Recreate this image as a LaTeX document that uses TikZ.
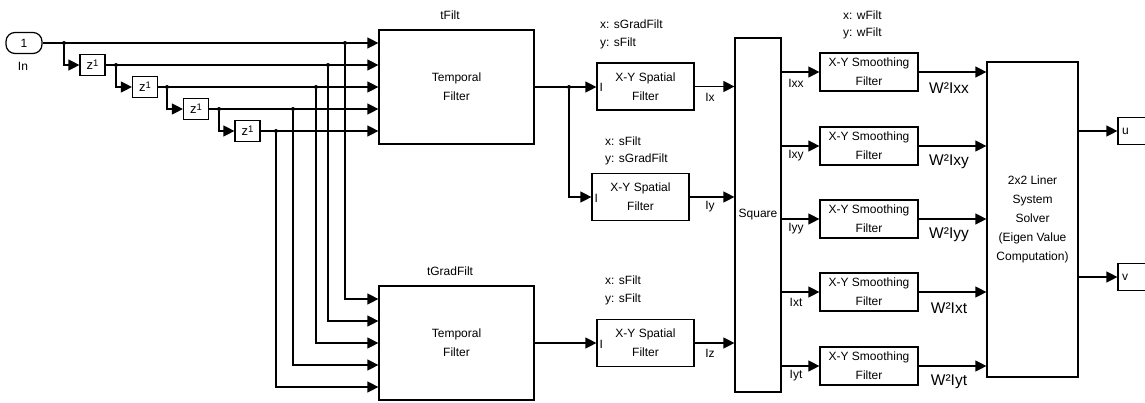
\documentclass[tikz,border=0pt]{standalone}
\usepackage{fontspec}
\setmainfont{Liberation Sans}
\usetikzlibrary{arrows.meta,calc}
\begin{document}
\begin{tikzpicture}[x=1pt,y=-1pt,
  blk/.style={draw, line width=1.2pt, inner sep=0pt, font=\fontsize{12}{19}\selectfont, align=center},
  wire/.style={line width=1.2pt},
  arr/.style={wire, -{Triangle[length=11pt,width=11pt]}},
  dot/.style={circle, fill, inner sep=0pt, minimum size=4pt},
  lab/.style={font=\fontsize{12}{14}\selectfont, inner sep=0pt},
  wlab/.style={font=\fontsize{15.5}{16}\selectfont, inner sep=0pt},
  zbox/.style={blk, minimum width=25pt, minimum height=21pt, font=\fontsize{13}{14}\selectfont},
  tbox/.style={blk, minimum width=155pt, minimum height=114pt},
  sbox/.style={blk, minimum width=97pt, minimum height=47pt},
  mbox/.style={blk, minimum width=98pt, minimum height=38pt},
  obox/.style={blk, minimum height=27pt, text width=22pt, inner xsep=4pt, align=left}]
\useasboundingbox (0,0) rectangle (1145,402);

% input port and delays
\node[blk, rounded corners=9pt, minimum width=36pt, minimum height=21pt] (in) at (24,43) {1};
\node[lab] (inl) at (23,66) {In};
\node[zbox] (z1) at (92.5,65) {z\raisebox{3pt}{\fontsize{9.5}{9}\selectfont 1}};
\node[zbox] (z2) at (145,87) {z\raisebox{3pt}{\fontsize{9.5}{9}\selectfont 1}};
\node[zbox] (z3) at (196,109) {z\raisebox{3pt}{\fontsize{9.5}{9}\selectfont 1}};
\node[zbox] (z4) at (247.5,131) {z\raisebox{3pt}{\fontsize{9.5}{9}\selectfont 1}};

% temporal filters
\node[tbox] (tf) at (456.5,87) {Temporal\\Filter};
\node[lab] (tfl) at (450,15) {tFilt};
\node[tbox] (tg) at (456.5,343) {Temporal\\Filter};
\node[lab] (tgl) at (450,271) {tGradFilt};

% spatial filters
\node[sbox] (sf1) at (645.5,86.5) {X-Y Spatial\\Filter};
\node[sbox] (sf2) at (640.5,197) {X-Y Spatial\\Filter};
\node[sbox] (sf3) at (645.5,343) {X-Y Spatial\\Filter};
\node[lab, anchor=west] (sf1x) at (600,24) {x: sGradFilt};
\node[lab, anchor=west] (sf1y) at (600,43) {y: sFilt};
\node[lab, anchor=west] (sf2x) at (605,141) {x: sFilt};
\node[lab, anchor=west] (sf2y) at (605,159) {y: sGradFilt};
\node[lab, anchor=west] (sf3x) at (605,280) {x: sFilt};
\node[lab, anchor=west] (sf3y) at (605,299) {y: sFilt};
\node[lab, anchor=west] (sf1i) at ($(sf1.west)+(3,1)$) {I};
\node[lab, anchor=west] (sf2i) at ($(sf2.west)+(3,1)$) {I};
\node[lab, anchor=west] (sf3i) at ($(sf3.west)+(3,1)$) {I};

% square
\node[blk, minimum width=46pt, minimum height=354pt] (sq) at (758,215) {Square};

% smoothing filters
\node[mbox] (sm1) at (869,72) {X-Y Smoothing\\Filter};
\node[mbox] (sm2) at (869,146) {X-Y Smoothing\\Filter};
\node[mbox] (sm3) at (869,219) {X-Y Smoothing\\Filter};
\node[mbox] (sm4) at (869,292) {X-Y Smoothing\\Filter};
\node[mbox] (sm5) at (869,366) {X-Y Smoothing\\Filter};
\node[lab, anchor=west] (smx) at (843,15) {x: wFilt};
\node[lab, anchor=west] (smy) at (843,33) {y: wFilt};

% solver and outputs
\node[blk, minimum width=91pt, minimum height=315pt] (sol) at (1032.5,219.5)
  {2x2 Liner\\System\\Solver\\(Eigen Value\\Computation)};
\node[obox] (u) at (1133,131) {u};
\node[obox] (v) at (1133,277) {v};

% --- wiring: input and delay chain
\node[dot] (j0) at (64,43) {};
\node[dot] (j1) at (116,65) {};
\node[dot] (j2) at (167,87) {};
\node[dot] (j3) at (219,109) {};
\draw[arr] (in.east) -- (in.east -| tf.west);
\draw[arr] (j0) |- (z1.west);
\draw[arr] (z1.east) -- (z1.east -| tf.west);
\draw[arr] (j1) |- (z2.west);
\draw[arr] (z2.east) -- (z2.east -| tf.west);
\draw[arr] (j2) |- (z3.west);
\draw[arr] (z3.east) -- (z3.east -| tf.west);
\draw[arr] (j3) |- (z4.west);
\draw[arr] (z4.east) -- (z4.east -| tf.west);

% taps to tGradFilt
\node[dot] (t0) at (345,43) {};
\node[dot] (t1) at (328,65) {};
\node[dot] (t2) at (316,87) {};
\node[dot] (t3) at (293,109) {};
\node[dot] (t4) at (276,131) {};
\draw[arr] (t0) |- ($(tg.west)+(0,-44)$);
\draw[arr] (t1) |- ($(tg.west)+(0,-22)$);
\draw[arr] (t2) |- (tg.west);
\draw[arr] (t3) |- ($(tg.west)+(0,22)$);
\draw[arr] (t4) |- ($(tg.west)+(0,44)$);

% temporal -> spatial
\node[dot] (b1) at (569,87) {};
\draw[arr] (tf.east) -- (tf.east -| sf1.west);
\draw[arr] (b1) |- (sf2.west);
\draw[arr] (tg.east) -- (tg.east -| sf3.west);

% spatial -> square
\draw[arr] (sf1.east) -- (sf1.east -| sq.west);
\draw[arr] (sf2.east) -- (sf2.east -| sq.west);
\draw[arr] (sf3.east) -- (sf3.east -| sq.west);
\node[lab] (lx) at (710,97) {Ix};
\node[lab] (ly) at (710,207) {Iy};
\node[lab] (lz) at (710,353) {Iz};

% square -> smoothing -> solver
\foreach \s in {sm1, sm2, sm3, sm4, sm5}{
  \draw[arr] (sq.east |- \s.west) -- (\s.west);
  \draw[arr] (\s.east) -- (\s.east -| sol.west);
}
\node[lab] (l1) at (796,83) {Ixx};
\node[lab] (l2) at (796,156) {Ixy};
\node[lab] (l3) at (796,229) {Iyy};
\node[lab] (l4) at (796,302) {Ixt};
\node[lab] (l5) at (796,376) {Iyt};
\node[wlab] (w1) at (949,88) {W²Ixx};
\node[wlab] (w2) at (949,162) {W²Ixy};
\node[wlab] (w3) at (949,235) {W²Iyy};
\node[wlab] (w4) at (949,308) {W²Ixt};
\node[wlab] (w5) at (949,382) {W²Iyt};

% solver -> outputs
\draw[arr] (sol.east |- u.west) -- (u.west);
\draw[arr] (sol.east |- v.west) -- (v.west);
\end{tikzpicture}
\end{document}
